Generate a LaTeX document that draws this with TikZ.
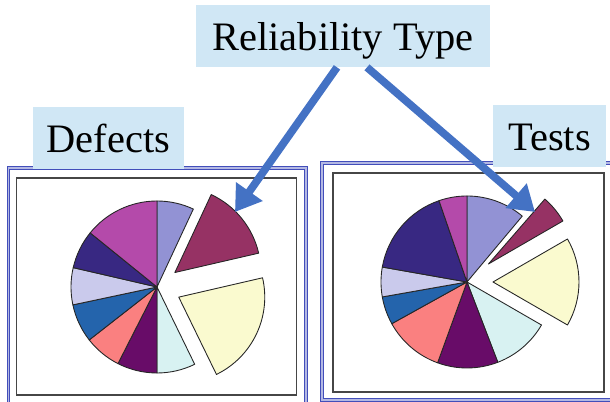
\documentclass[tikz,border=0pt]{standalone}
\usepackage{fontspec}
\setmainfont{Liberation Serif}
\usepackage{tikz}
\usetikzlibrary{arrows.meta, calc}
\definecolor{tagblue}{RGB}{208,231,245}
\definecolor{arrowblue}{RGB}{68,114,196}
\definecolor{frameblue}{RGB}{66,78,186}
\definecolor{framegray}{RGB}{70,70,70}
\definecolor{plight}{RGB}{146,146,212}
\definecolor{pmaroon}{RGB}{150,50,100}
\definecolor{pyellow}{RGB}{250,250,207}
\definecolor{pcyan}{RGB}{216,242,242}
\definecolor{pdark}{RGB}{104,12,104}
\definecolor{psalmon}{RGB}{250,128,128}
\definecolor{pblue}{RGB}{36,100,172}
\definecolor{plav}{RGB}{202,202,236}
\definecolor{pnavy}{RGB}{56,40,130}
\definecolor{pmagenta}{RGB}{180,74,170}
\tikzset{
  tag/.style={rectangle, fill=tagblue, minimum height=1.24cm, inner sep=0pt,
    text height=21pt, text depth=4pt, font=\fontsize{23}{27}\selectfont},
  bigarrow/.style={-{Triangle[length=0.5cm, width=0.62cm]}, line width=4.4pt, color=arrowblue},
  outerframe/.style={draw=frameblue, double=frameblue!40, double distance=0.6pt, line width=0.7pt},
  innerframe/.style={draw=framegray, line width=1.1pt},
  slicestyle/.style={draw=black!85, line width=0.5pt, line join=round}
}
% one slice: centre, from, to, colour, offset
\newcommand{\pieslice}[5]{%
  \filldraw[slicestyle, fill=#4] ($(#1)+(#5)$) -- ++(#2:86) arc[start angle=#2, end angle=#3, radius=86] -- cycle;}

\begin{document}
\begin{tikzpicture}[x=0.02cm, y=0.02cm]
  \useasboundingbox (0,0) rectangle (610,402);
  \clip (0,0) rectangle (610,402);

  % Frames
  \draw[outerframe] (8.5,-10) rectangle (306,234);
  \draw[innerframe] (16.5,7) rectangle (296.5,224);
  \draw[outerframe] (322,2) rectangle (625,239);
  \draw[innerframe] (333,10) rectangle (604,229);

  % Defects pie
  \coordinate (cdef) at (157,115);
  \foreach \a/\b/\c in {90/65/plight, -64/-90/pcyan, -90/-117/pdark, -117/-142/psalmon,
      -142/-168/pblue, -168/-193/plav, -193/-219/pnavy, -219/-270/pmagenta}
    \pieslice{cdef}{\a}{\b}{\c}{0,0};
  \pieslice{cdef}{65}{13}{pmaroon}{39:23}
  \pieslice{cdef}{13}{-64}{pyellow}{-25:24}

  % Tests pie
  \coordinate (ctest) at (467,120);
  \foreach \a/\b/\c in {90/50/plight, -30/-69/pcyan, -69/-110/pdark, -110/-151/psalmon,
      -151/-170/pblue, -170/-190/plav, -190/-251/pnavy, -251/-270/pmagenta}
    \pieslice{ctest}{\a}{\b}{\c}{0,0};
  \pieslice{ctest}{49}{30}{pmaroon}{40:28}
  \pieslice{ctest}{30}{-30}{pyellow}{0:26}

  % Labels
  \node[tag, minimum width=5.88cm] (reltype) at (343,366) {Reliability Type};
  \node[tag, minimum width=3.02cm] (defects) at (108.5,264) {Defects};
  \node[tag, minimum width=2.26cm] (tests) at (549.5,266) {Tests};

  % Arrows
  \coordinate (defTip) at (235,190);
  \coordinate (testTip) at (535,190);
  \draw[bigarrow] ([xshift=-0.12cm]reltype.south) -- (defTip);
  \draw[bigarrow] ([xshift=0.48cm]reltype.south) -- (testTip);
\end{tikzpicture}
\end{document}
